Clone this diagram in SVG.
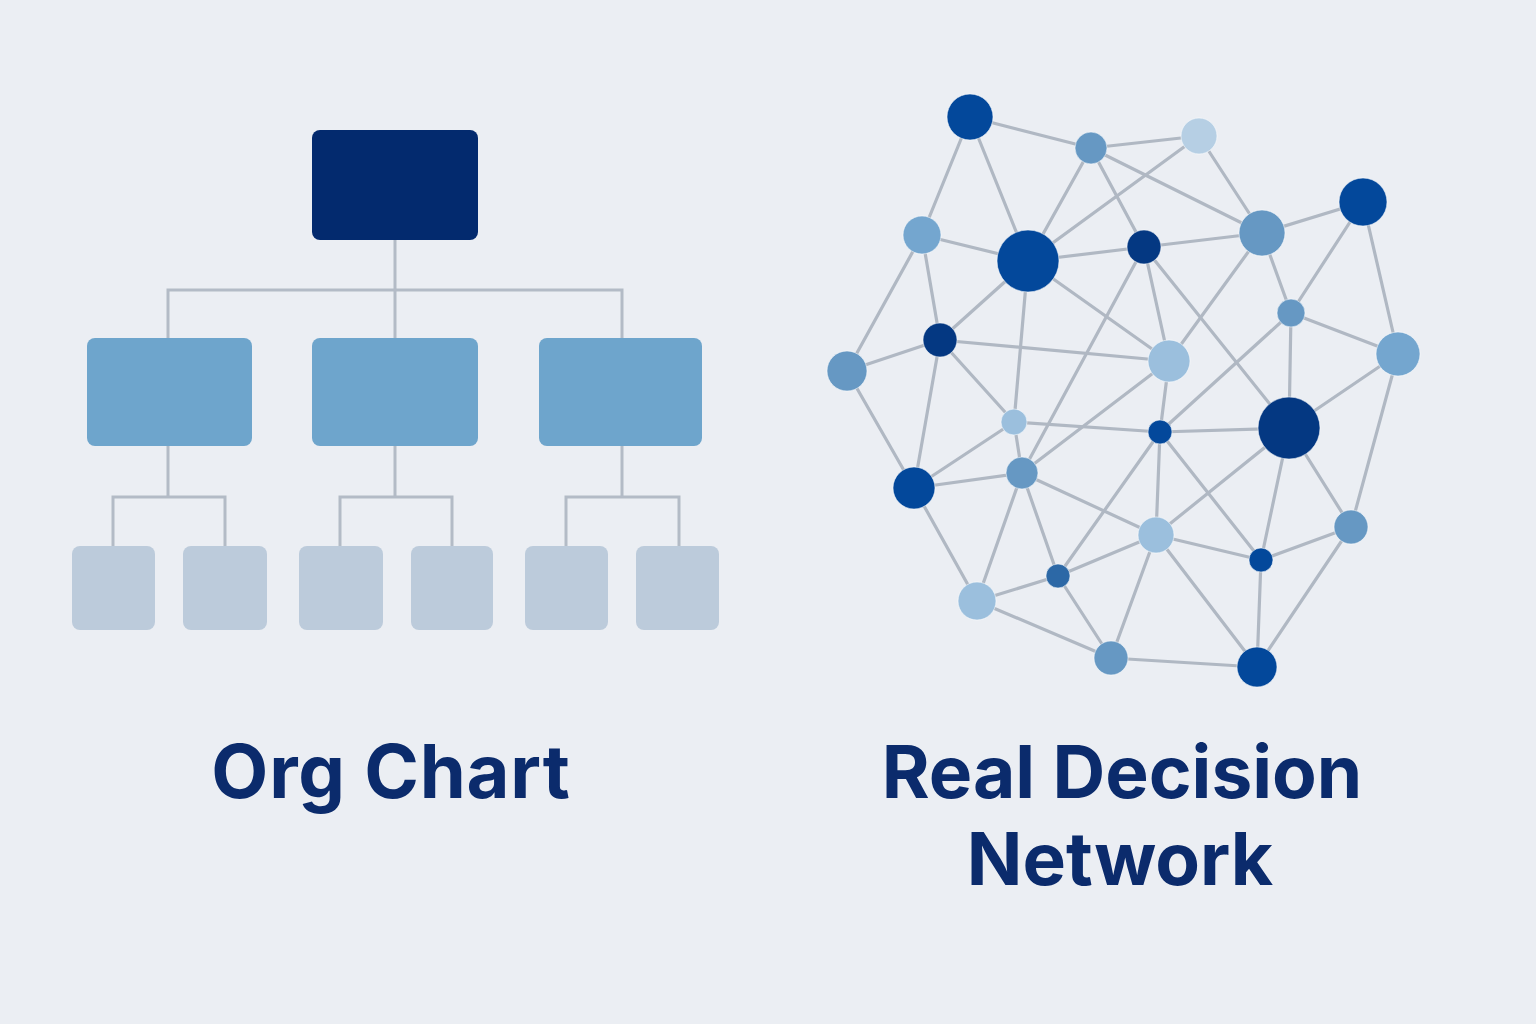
<svg xmlns="http://www.w3.org/2000/svg" width="1536" height="1024" viewBox="0 0 1536 1024">
<style>
.bg{fill:#ebeef3}
.oline{fill:none;stroke:#b3bbc6;stroke-width:3}
.top{fill:#032a6e}
.mid{fill:#6ea5cc}
.low{fill:#bccbdb}
.e{stroke:#b0b8c3;stroke-width:3.2;stroke-linecap:round}
.n{stroke:#ffffff;stroke-opacity:0.55;stroke-width:1}
.c1{fill:#03489b}
.c2{fill:#043882}
.c3{fill:#6698c3}
.c4{fill:#74a6cf}
.c5{fill:#9bbfdd}
.c6{fill:#b6cfe4}
.c7{fill:#2c68a6}
.t{font-family:Inter,"Liberation Sans",sans-serif;font-weight:700;fill:#0b2b6c;text-anchor:middle}
</style>
<rect class="bg" x="0" y="0" width="1536" height="1024"/>

<g id="org-connectors">
<path class="oline" d="M395 240V290M168 338V290H622V338M395 290V338"/>
<path class="oline" d="M168 446V497M113 546V497H225V546"/>
<path class="oline" d="M395 446V497M340 546V497H452V546"/>
<path class="oline" d="M622 446V497M566 546V497H679V546"/>
</g>
<g id="org-top"><rect class="top" x="312" y="130" width="166" height="110" rx="8"/></g>
<g id="org-mid-1"><rect class="mid" x="87" y="338" width="165" height="108" rx="8"/></g>
<g id="org-mid-2"><rect class="mid" x="312" y="338" width="166" height="108" rx="8"/></g>
<g id="org-mid-3"><rect class="mid" x="539" y="338" width="163" height="108" rx="8"/></g>
<g id="org-low-1"><rect class="low" x="72" y="546" width="83" height="84" rx="8"/></g>
<g id="org-low-2"><rect class="low" x="183" y="546" width="84" height="84" rx="8"/></g>
<g id="org-low-3"><rect class="low" x="299" y="546" width="84" height="84" rx="8"/></g>
<g id="org-low-4"><rect class="low" x="411" y="546" width="82" height="84" rx="8"/></g>
<g id="org-low-5"><rect class="low" x="525" y="546" width="83" height="84" rx="8"/></g>
<g id="org-low-6"><rect class="low" x="636" y="546" width="83" height="84" rx="8"/></g>

<g id="net-connectors">
<line class="e" x1="970" y1="117" x2="1091" y2="148"/>
<line class="e" x1="970" y1="117" x2="922" y2="235"/>
<line class="e" x1="970" y1="117" x2="1028" y2="261"/>
<line class="e" x1="1091" y1="148" x2="1199" y2="136"/>
<line class="e" x1="1091" y1="148" x2="1028" y2="261"/>
<line class="e" x1="1091" y1="148" x2="1144" y2="247"/>
<line class="e" x1="1091" y1="148" x2="1262" y2="233"/>
<line class="e" x1="1199" y1="136" x2="1028" y2="261"/>
<line class="e" x1="1199" y1="136" x2="1262" y2="233"/>
<line class="e" x1="922" y1="235" x2="1028" y2="261"/>
<line class="e" x1="922" y1="235" x2="847" y2="371"/>
<line class="e" x1="922" y1="235" x2="940" y2="340"/>
<line class="e" x1="1028" y1="261" x2="1144" y2="247"/>
<line class="e" x1="1028" y1="261" x2="940" y2="340"/>
<line class="e" x1="1028" y1="261" x2="1014" y2="422"/>
<line class="e" x1="1028" y1="261" x2="1169" y2="361"/>
<line class="e" x1="1144" y1="247" x2="1262" y2="233"/>
<line class="e" x1="1144" y1="247" x2="1169" y2="361"/>
<line class="e" x1="1144" y1="247" x2="1289" y2="428"/>
<line class="e" x1="1144" y1="247" x2="1022" y2="473"/>
<line class="e" x1="1262" y1="233" x2="1363" y2="202"/>
<line class="e" x1="1262" y1="233" x2="1291" y2="313"/>
<line class="e" x1="1262" y1="233" x2="1169" y2="361"/>
<line class="e" x1="1363" y1="202" x2="1291" y2="313"/>
<line class="e" x1="1363" y1="202" x2="1398" y2="354"/>
<line class="e" x1="1291" y1="313" x2="1398" y2="354"/>
<line class="e" x1="1291" y1="313" x2="1289" y2="428"/>
<line class="e" x1="1291" y1="313" x2="1160" y2="432"/>
<line class="e" x1="940" y1="340" x2="847" y2="371"/>
<line class="e" x1="940" y1="340" x2="1169" y2="361"/>
<line class="e" x1="940" y1="340" x2="1014" y2="422"/>
<line class="e" x1="940" y1="340" x2="914" y2="488"/>
<line class="e" x1="847" y1="371" x2="914" y2="488"/>
<line class="e" x1="1169" y1="361" x2="1160" y2="432"/>
<line class="e" x1="1169" y1="361" x2="1022" y2="473"/>
<line class="e" x1="1014" y1="422" x2="1022" y2="473"/>
<line class="e" x1="1014" y1="422" x2="914" y2="488"/>
<line class="e" x1="1014" y1="422" x2="1160" y2="432"/>
<line class="e" x1="914" y1="488" x2="1022" y2="473"/>
<line class="e" x1="914" y1="488" x2="977" y2="601"/>
<line class="e" x1="1022" y1="473" x2="977" y2="601"/>
<line class="e" x1="1022" y1="473" x2="1058" y2="576"/>
<line class="e" x1="1022" y1="473" x2="1156" y2="535"/>
<line class="e" x1="1160" y1="432" x2="1289" y2="428"/>
<line class="e" x1="1160" y1="432" x2="1156" y2="535"/>
<line class="e" x1="1160" y1="432" x2="1261" y2="560"/>
<line class="e" x1="1160" y1="432" x2="1058" y2="576"/>
<line class="e" x1="1289" y1="428" x2="1156" y2="535"/>
<line class="e" x1="1289" y1="428" x2="1261" y2="560"/>
<line class="e" x1="1289" y1="428" x2="1351" y2="527"/>
<line class="e" x1="1398" y1="354" x2="1289" y2="428"/>
<line class="e" x1="1398" y1="354" x2="1351" y2="527"/>
<line class="e" x1="1156" y1="535" x2="1261" y2="560"/>
<line class="e" x1="1156" y1="535" x2="1058" y2="576"/>
<line class="e" x1="1156" y1="535" x2="1111" y2="658"/>
<line class="e" x1="1156" y1="535" x2="1257" y2="667"/>
<line class="e" x1="1261" y1="560" x2="1351" y2="527"/>
<line class="e" x1="1261" y1="560" x2="1257" y2="667"/>
<line class="e" x1="1351" y1="527" x2="1257" y2="667"/>
<line class="e" x1="977" y1="601" x2="1058" y2="576"/>
<line class="e" x1="977" y1="601" x2="1111" y2="658"/>
<line class="e" x1="1058" y1="576" x2="1111" y2="658"/>
<line class="e" x1="1111" y1="658" x2="1257" y2="667"/>
</g>

<g id="n-A"><circle class="n c1" cx="970" cy="117" r="23"/></g>
<g id="n-B"><circle class="n c3" cx="1091" cy="148" r="16"/></g>
<g id="n-C"><circle class="n c6" cx="1199" cy="136" r="18"/></g>
<g id="n-D"><circle class="n c4" cx="922" cy="235" r="19"/></g>
<g id="n-E"><circle class="n c1" cx="1028" cy="261" r="31"/></g>
<g id="n-F"><circle class="n c2" cx="1144" cy="247" r="17"/></g>
<g id="n-G"><circle class="n c3" cx="1262" cy="233" r="23"/></g>
<g id="n-H"><circle class="n c1" cx="1363" cy="202" r="24"/></g>
<g id="n-I"><circle class="n c3" cx="1291" cy="313" r="14"/></g>
<g id="n-J"><circle class="n c2" cx="940" cy="340" r="17"/></g>
<g id="n-K"><circle class="n c3" cx="847" cy="371" r="20"/></g>
<g id="n-L"><circle class="n c5" cx="1169" cy="361" r="21"/></g>
<g id="n-M"><circle class="n c4" cx="1398" cy="354" r="22"/></g>
<g id="n-N"><circle class="n c5" cx="1014" cy="422" r="13"/></g>
<g id="n-O"><circle class="n c1" cx="1160" cy="432" r="12"/></g>
<g id="n-P"><circle class="n c2" cx="1289" cy="428" r="31"/></g>
<g id="n-Q"><circle class="n c1" cx="914" cy="488" r="21"/></g>
<g id="n-R"><circle class="n c3" cx="1022" cy="473" r="16"/></g>
<g id="n-S"><circle class="n c5" cx="1156" cy="535" r="18"/></g>
<g id="n-T"><circle class="n c1" cx="1261" cy="560" r="12"/></g>
<g id="n-U"><circle class="n c3" cx="1351" cy="527" r="17"/></g>
<g id="n-V"><circle class="n c5" cx="977" cy="601" r="19"/></g>
<g id="n-W"><circle class="n c7" cx="1058" cy="576" r="12"/></g>
<g id="n-X"><circle class="n c3" cx="1111" cy="658" r="17"/></g>
<g id="n-Y"><circle class="n c1" cx="1257" cy="667" r="20"/></g>

<g id="labels">
<text class="t" x="391" y="798" font-size="74" letter-spacing="0.8">Org Chart</text>
<text class="t" x="1122" y="798" font-size="73">Real Decision</text>
<text class="t" x="1120" y="885" font-size="73">Network</text>
</g>
</svg>
